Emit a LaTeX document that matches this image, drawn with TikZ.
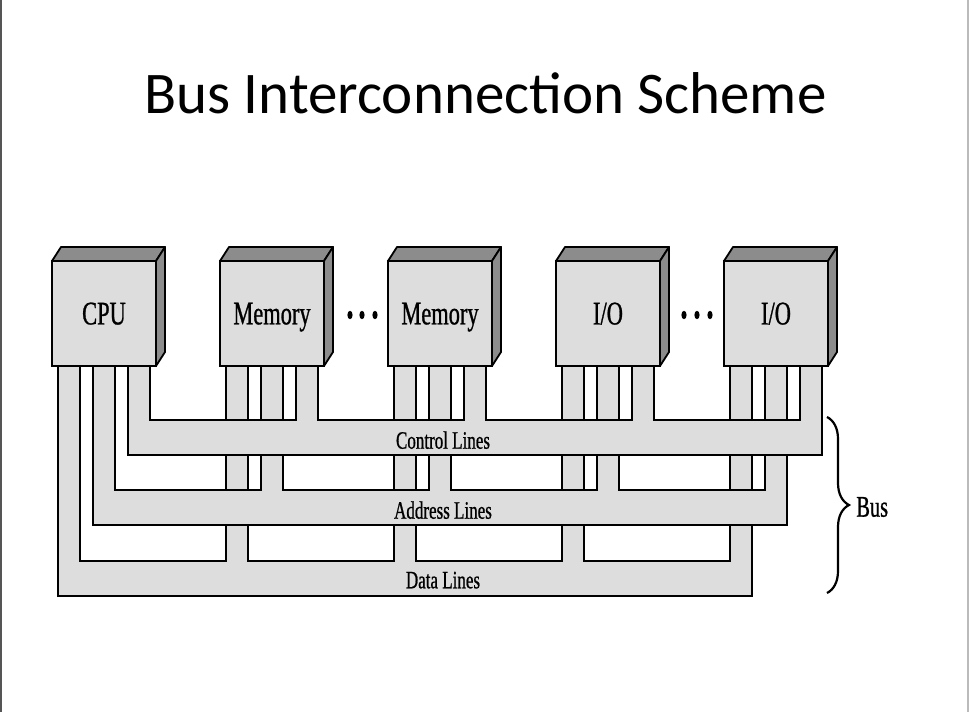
\documentclass[tikz,border=0pt]{standalone}
\usepackage{fontspec}
\newfontfamily\titlefont{Carlito}
\newfontfamily\labelfont{Liberation Serif}[FakeStretch=0.68,FakeBold=0.8]
\usetikzlibrary{positioning,decorations.pathreplacing,calc}
\definecolor{facegray}{HTML}{DDDDDD}
\definecolor{sidegray}{HTML}{8C8C8C}
\definecolor{leftframe}{HTML}{555555}
\definecolor{rightframe}{HTML}{BBBBBB}

\begin{document}
\begin{tikzpicture}[x=1pt,y=-1pt,node distance=64pt,outer sep=0pt,
  module/.style={
    draw=black,
    fill=facegray,
    line width=1.8pt,
    minimum width=104pt,
    minimum height=105pt,
    inner sep=0pt,
    text depth=0pt,
    font={\labelfont\fontsize{33}{36}\selectfont},
    },
  face/.style={draw=black,fill=sidegray,line width=1.8pt,line join=round},
  bus/.style={draw=black,fill=facegray,line width=1.8pt},
  busname/.style={text depth=0pt,font={\labelfont\fontsize{25}{28}\selectfont}},
  ]

  \useasboundingbox (0,0) rectangle (969,712);
  \draw[leftframe, line width=2pt] (1,0) -- (1,712);
  \draw[rightframe, line width=2pt] (968,0) -- (968,712);

  \node[font={\titlefont\fontsize{59}{64}\selectfont}, anchor=base] (title) at (485.5,113) {Bus Interconnection Scheme};

  \node[module] (cpu) at (104,313.5) {CPU};
  \node[module, right=of cpu] (mem1) {Memory};
  \node[module, right=of mem1] (mem2) {Memory};
  \node[module, right=of mem2] (io1) {I/O};
  \node[module, right=of io1] (io2) {I/O};

  \foreach \m in {cpu,mem1,mem2,io1,io2} {
    \draw[face] (\m.north west) -- ++(9,-14) -- ++(104,0) -- (\m.north east) -- cycle;
    \draw[face] (\m.north east) -- ++(9,-14) -- ++(0,105) -- (\m.south east) -- cycle;
  }

  % data, address, control
  \foreach \dx/\ya/\yb in {6/561/596,41/490/525,76/420/455}
    \draw[bus] ([xshift=\dx pt]cpu.south west) |- ([xshift=\dx pt+22pt]io2.south west |- 0,\yb)
      -- ([xshift=\dx pt+22pt]io2.south west) -- ([xshift=\dx pt]io2.south west)
      -- ([xshift=\dx pt]io2.south west |- 0,\ya)
      foreach \m in {io1,mem2,mem1} {
        -| ([xshift=\dx pt+22pt]\m.south west) -- ([xshift=\dx pt]\m.south west) -- ([xshift=\dx pt]\m.south west |- 0,\ya)
      }
      -| ([xshift=\dx pt+22pt]cpu.south west) -- cycle;

  \node[busname] (ctrl) at (443,440) {Control Lines};
  \node[busname] (addr) at (443,510) {Address Lines};
  \node[busname] (data) at (443,580) {Data Lines};

  \foreach \x in {350,362,375,684,697,710}
    \fill (\x,315) ellipse (2.6pt and 4.2pt);

  \draw[line width=2.2pt, decorate, decoration={brace, amplitude=22pt}] (827,417) -- (827,593);
  \node[font={\labelfont\fontsize{30}{32}\selectfont}, anchor=west] (bus) at (853,507) {Bus};

\end{tikzpicture}
\end{document}
